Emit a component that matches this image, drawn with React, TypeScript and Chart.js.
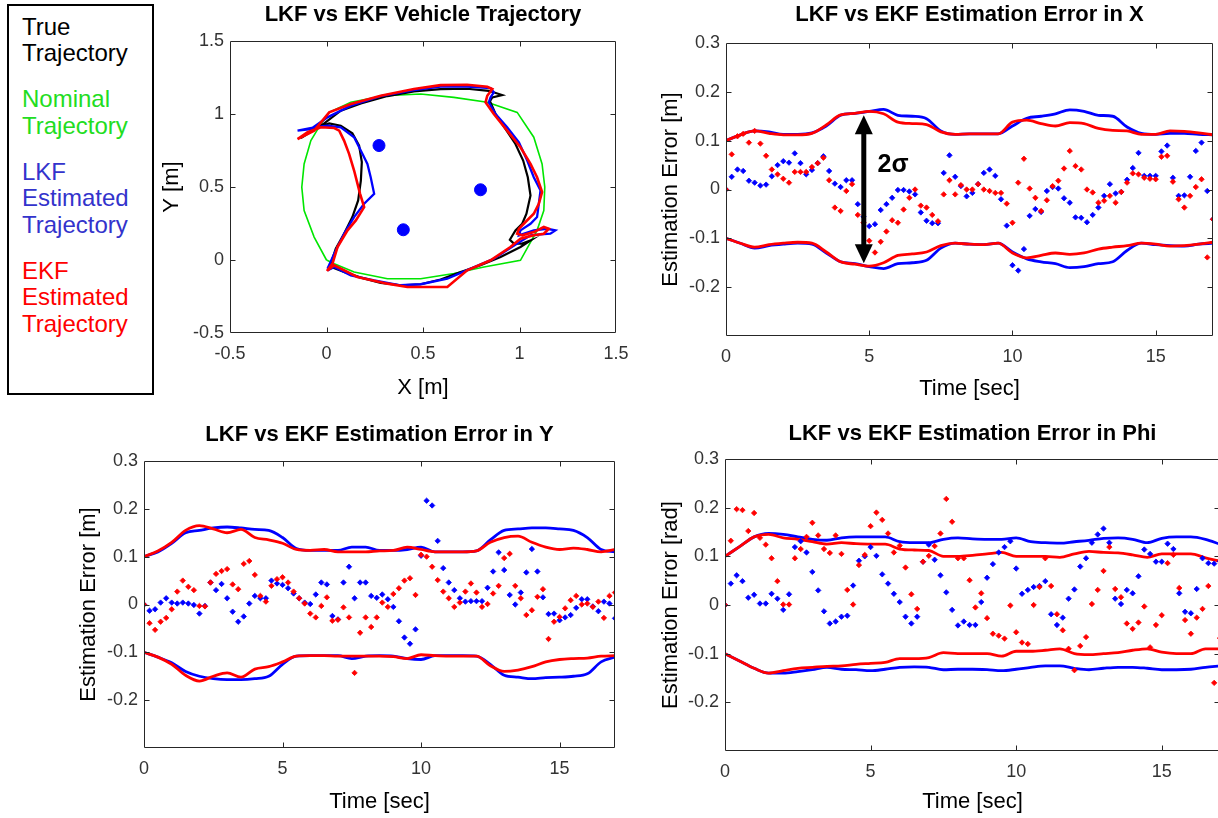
import React, { useEffect, useRef } from 'react';
import { Chart, registerables } from 'chart.js';

Chart.register(...registerables);

// ---------------- data ----------------
const T_PTS = [0, 0.2, 0.4, 0.6, 0.8, 1, 1.2, 1.4, 1.6, 1.8, 2, 2.2, 2.4, 2.6, 2.8, 3, 3.2, 3.4, 3.6, 3.8, 4, 4.2, 4.4, 4.6, 4.8, 5, 5.2, 5.4, 5.6, 5.8, 6, 6.2, 6.4, 6.6, 6.8, 7, 7.2, 7.4, 7.6, 7.8, 8, 8.2, 8.4, 8.6, 8.8, 9, 9.2, 9.4, 9.6, 9.8, 10, 10.2, 10.4, 10.6, 10.8, 11, 11.2, 11.4, 11.6, 11.8, 12, 12.2, 12.4, 12.6, 12.8, 13, 13.2, 13.4, 13.6, 13.8, 14, 14.2, 14.4, 14.6, 14.8, 15, 15.2, 15.4, 15.6, 15.8, 16, 16.2, 16.4, 16.6, 16.8, 17];
const T_BOUND = [0, 0.5, 1, 1.5, 2, 2.5, 3, 3.5, 4, 4.5, 5, 5.5, 6, 6.5, 7, 7.5, 8, 8.5, 9, 9.5, 10, 10.5, 11, 11.5, 12, 12.5, 13, 13.5, 14, 14.5, 15, 15.5, 16, 16.5, 17];

// Trajectory plot
const TRUE_X = [0.014, 0.048, 0.091, 0.134, 0.164, 0.178, 0.183, 0.169, 0.134, 0.074, 0.014, -0.055, -0.133, -0.064, -0.012, 0.074, 0.178, 0.316, 0.453, 0.591, 0.729, 0.841, 0.910, 0.859, 0.847, 0.876, 0.928, 0.979, 1.019, 1.043, 1.057, 1.036, 1.014, 0.979, 0.950, 0.971, 1.014, 1.057, 1.005, 0.902, 0.798, 0.695, 0.591, 0.488, 0.384, 0.281, 0.178, 0.091, 0.031, 0.005];
const TRUE_Y = [-0.059, 0.077, 0.180, 0.294, 0.408, 0.544, 0.670, 0.784, 0.868, 0.920, 0.936, 0.904, 0.836, 0.891, 0.936, 1.023, 1.073, 1.123, 1.155, 1.171, 1.173, 1.159, 1.130, 1.114, 1.087, 1.000, 0.897, 0.795, 0.681, 0.567, 0.442, 0.317, 0.248, 0.203, 0.139, 0.112, 0.112, 0.134, 0.089, 0.021, -0.036, -0.082, -0.134, -0.166, -0.173, -0.157, -0.121, -0.082, -0.052, -0.066];
const NOM_X = [0, -0.064, -0.116, -0.128, -0.116, -0.081, -0.029, 0.014, 0.126, 0.298, 0.488, 0.660, 0.833, 0.988, 1.074, 1.117, 1.131, 1.126, 1.091, 1.005, 0.816, 0.660, 0.488, 0.316, 0.143, 0.040, 0];
const NOM_Y = [0, 0.157, 0.339, 0.499, 0.658, 0.818, 0.932, 1.011, 1.080, 1.125, 1.137, 1.114, 1.080, 1.011, 0.841, 0.658, 0.499, 0.339, 0.203, -0.002, -0.048, -0.093, -0.128, -0.128, -0.082, -0.025, 0];
const LKF_X = [0.005, 0.040, 0.091, 0.143, 0.195, 0.247, 0.229, 0.212, 0.186, 0.143, 0.074, 0.005, -0.064, -0.150, -0.081, 0.005, 0.126, 0.281, 0.453, 0.591, 0.729, 0.850, 0.867, 0.850, 0.841, 0.876, 0.936, 0.997, 1.040, 1.074, 1.109, 1.100, 1.091, 1.057, 1.005, 0.997, 1.074, 1.143, 1.186, 1.160, 1.109, 1.057, 0.988, 0.867, 0.747, 0.626, 0.488, 0.384, 0.247, 0.126, 0.040, 0.005];
const LKF_Y = [-0.059, 0.043, 0.180, 0.294, 0.385, 0.453, 0.567, 0.658, 0.727, 0.841, 0.909, 0.920, 0.909, 0.886, 0.897, 0.977, 1.057, 1.123, 1.164, 1.187, 1.187, 1.178, 1.148, 1.114, 1.080, 1.000, 0.909, 0.806, 0.681, 0.567, 0.476, 0.385, 0.294, 0.248, 0.203, 0.169, 0.203, 0.214, 0.203, 0.180, 0.175, 0.169, 0.112, 0.009, -0.059, -0.128, -0.166, -0.173, -0.139, -0.105, -0.048, -0.071];
const EKF_X = [0.002, 0.031, 0.057, 0.109, 0.152, 0.195, 0.174, 0.143, 0.117, 0.091, 0.066, 0.040, -0.029, -0.098, -0.150, -0.064, 0.014, 0.126, 0.281, 0.453, 0.591, 0.729, 0.833, 0.859, 0.833, 0.824, 0.867, 0.936, 1.005, 1.057, 1.091, 1.117, 1.100, 1.074, 1.031, 0.997, 0.988, 1.014, 1.074, 1.126, 1.152, 1.126, 1.074, 1.005, 0.953, 0.850, 0.729, 0.626, 0.419, 0.316, 0.160, 0.040, 0.005];
const EKF_Y = [-0.075, -0.025, 0.089, 0.203, 0.271, 0.362, 0.453, 0.613, 0.727, 0.818, 0.886, 0.904, 0.909, 0.875, 0.829, 0.886, 1.011, 1.068, 1.125, 1.171, 1.198, 1.200, 1.187, 1.171, 1.125, 1.080, 1.000, 0.886, 0.772, 0.658, 0.567, 0.465, 0.385, 0.317, 0.260, 0.214, 0.180, 0.169, 0.191, 0.226, 0.214, 0.180, 0.169, 0.146, 0.089, -0.002, -0.071, -0.185, -0.185, -0.162, -0.116, -0.036, -0.071];
const LM_X = [0.272, 0.798, 0.398];
const LM_Y = [0.784, 0.481, 0.207];

// Estimation error in X
const X_LKF = [0, 0.026, 0.041, 0.038, 0.018, 0.014, 0.008, 0.010, 0.027, 0.050, 0.058, 0.055, 0.074, 0.054, 0.031, 0.040, 0.054, 0.068, 0.038, 0.012, 0.005, 0.019, 0.019, -0.030, -0.056, -0.075, -0.071, -0.042, -0.030, -0.017, -0.001, -0.001, -0.004, -0.010, -0.047, -0.064, -0.069, -0.069, 0.034, 0.070, 0.026, 0.007, -0.014, -0.007, 0.011, 0.034, 0.041, 0.028, -0.020, -0.074, -0.155, -0.166, -0.122, -0.054, -0.040, -0.046, -0.003, 0.005, 0.002, -0.018, -0.027, -0.057, -0.058, -0.067, -0.052, -0.037, -0.013, 0.011, -0.008, -0.005, 0.020, 0.044, 0.075, 0.028, 0.028, 0.028, 0.078, 0.090, 0.024, -0.013, -0.012, 0.026, 0.079, 0.096, -0.003, -0.061];
const X_EKF = [0, 0.072, 0.109, 0.114, 0.096, 0.120, 0.094, 0.069, 0.041, 0.031, 0.022, 0.014, 0.036, 0.036, 0.036, 0.046, 0.054, 0.065, 0.019, -0.037, -0.044, -0.003, 0.011, -0.052, -0.068, -0.105, -0.129, -0.107, -0.086, -0.063, -0.068, -0.041, -0.017, 0.000, -0.033, -0.037, -0.052, -0.065, -0.010, 0.019, -0.010, 0.009, 0.000, 0.000, 0.011, 0.000, -0.003, -0.007, -0.007, -0.029, -0.068, 0.014, 0.063, 0.002, -0.017, -0.044, -0.022, 0.007, 0.018, 0.043, 0.079, 0.048, 0.041, 0.000, -0.006, -0.027, -0.023, -0.013, -0.027, -0.005, 0.014, 0.033, 0.031, 0.024, 0.022, 0.021, 0.067, 0.069, 0.016, -0.020, -0.037, -0.013, 0.005, 0.021, -0.139, -0.061];
const XU_LKF = [0.100, 0.112, 0.120, 0.118, 0.113, 0.113, 0.116, 0.130, 0.152, 0.156, 0.160, 0.164, 0.152, 0.150, 0.145, 0.120, 0.113, 0.114, 0.114, 0.114, 0.130, 0.146, 0.150, 0.155, 0.163, 0.160, 0.152, 0.150, 0.128, 0.115, 0.113, 0.115, 0.115, 0.113, 0.112];
const XU_EKF = [0.100, 0.112, 0.120, 0.115, 0.112, 0.112, 0.115, 0.132, 0.153, 0.156, 0.160, 0.155, 0.138, 0.135, 0.133, 0.118, 0.113, 0.114, 0.114, 0.114, 0.138, 0.142, 0.135, 0.130, 0.137, 0.135, 0.125, 0.121, 0.120, 0.113, 0.113, 0.120, 0.119, 0.116, 0.112];
const XL_LKF = [-0.100, -0.110, -0.120, -0.115, -0.112, -0.110, -0.112, -0.130, -0.148, -0.152, -0.158, -0.162, -0.152, -0.150, -0.145, -0.120, -0.110, -0.112, -0.113, -0.110, -0.128, -0.142, -0.148, -0.152, -0.160, -0.158, -0.152, -0.148, -0.125, -0.110, -0.113, -0.115, -0.116, -0.112, -0.110];
const XL_EKF = [-0.100, -0.110, -0.118, -0.113, -0.110, -0.108, -0.110, -0.128, -0.148, -0.153, -0.157, -0.150, -0.135, -0.132, -0.128, -0.115, -0.110, -0.112, -0.113, -0.110, -0.130, -0.140, -0.135, -0.130, -0.133, -0.130, -0.122, -0.118, -0.115, -0.110, -0.112, -0.116, -0.115, -0.112, -0.108];

// Estimation error in Y
const Y_LKF = [0, -0.013, -0.010, 0.004, 0.013, 0.004, 0.002, 0.004, 0.002, -0.001, -0.019, -0.003, 0.046, 0.030, 0.043, 0.013, -0.015, -0.036, -0.025, 0.002, 0.018, 0.013, 0.013, 0.050, 0.044, 0.041, 0.034, 0.023, 0.013, 0.004, 0.001, 0.021, 0.046, 0.042, -0.024, -0.031, 0.046, 0.079, 0.013, 0.046, 0.046, 0.018, 0.014, 0.021, 0.011, -0.005, -0.035, -0.069, -0.082, -0.052, 0.102, 0.217, 0.207, 0.133, 0.076, 0.046, 0.030, 0.013, 0.006, 0.007, 0.007, 0.007, 0.035, 0.069, 0.109, 0.072, 0.020, 0.000, 0.025, 0.067, 0.116, 0.069, 0.015, -0.020, -0.019, -0.033, -0.027, -0.022, -0.007, 0.011, 0.011, -0.004, -0.014, 0.006, 0.002, -0.029];
const Y_EKF = [0, -0.039, -0.053, -0.036, -0.028, -0.010, 0.027, 0.050, 0.037, 0.030, -0.003, -0.004, 0.046, 0.064, 0.070, 0.074, 0.042, 0.032, 0.085, 0.091, 0.062, 0.018, 0.006, 0.039, 0.053, 0.057, 0.046, 0.027, 0.013, 0.002, -0.019, -0.027, -0.003, 0.015, -0.034, -0.032, -0.006, -0.027, -0.143, -0.059, -0.027, -0.047, -0.027, 0.004, -0.005, 0.022, 0.034, 0.050, 0.055, 0.020, 0.104, 0.100, 0.079, 0.051, 0.027, 0.013, -0.005, 0.004, 0.027, 0.044, 0.025, -0.005, 0.001, 0.023, 0.039, 0.097, 0.106, 0.039, 0.013, -0.022, -0.012, 0.016, 0.032, -0.072, -0.036, -0.026, -0.008, 0.009, 0.018, 0.000, 0.002, -0.005, 0.006, -0.028, 0.018, 0.025];
const YU_LKF = [0.100, 0.110, 0.128, 0.150, 0.155, 0.160, 0.162, 0.160, 0.157, 0.155, 0.140, 0.117, 0.113, 0.113, 0.113, 0.120, 0.120, 0.113, 0.113, 0.115, 0.120, 0.110, 0.110, 0.110, 0.112, 0.135, 0.155, 0.158, 0.160, 0.160, 0.158, 0.155, 0.140, 0.115, 0.110];
const YU_EKF = [0.100, 0.112, 0.130, 0.155, 0.165, 0.158, 0.150, 0.157, 0.140, 0.135, 0.128, 0.115, 0.113, 0.115, 0.110, 0.110, 0.110, 0.112, 0.113, 0.120, 0.115, 0.110, 0.110, 0.110, 0.112, 0.130, 0.140, 0.143, 0.130, 0.120, 0.115, 0.118, 0.115, 0.110, 0.115];
const YL_LKF = [-0.100, -0.110, -0.122, -0.140, -0.150, -0.155, -0.157, -0.157, -0.155, -0.150, -0.125, -0.108, -0.107, -0.107, -0.107, -0.113, -0.108, -0.107, -0.108, -0.113, -0.115, -0.107, -0.107, -0.107, -0.108, -0.125, -0.148, -0.152, -0.155, -0.153, -0.152, -0.150, -0.145, -0.120, -0.110];
const YL_EKF = [-0.100, -0.110, -0.125, -0.148, -0.160, -0.150, -0.143, -0.152, -0.135, -0.130, -0.120, -0.108, -0.107, -0.107, -0.108, -0.108, -0.108, -0.108, -0.109, -0.113, -0.105, -0.107, -0.108, -0.108, -0.108, -0.128, -0.140, -0.137, -0.130, -0.120, -0.115, -0.113, -0.112, -0.108, -0.107];

// Estimation error in Phi
const P_LKF = [0, 0.044, 0.061, 0.049, 0.015, 0.021, 0.003, 0.003, 0.023, 0.013, -0.010, 0.022, 0.119, 0.131, 0.108, 0.068, 0.030, -0.013, -0.038, -0.034, -0.024, -0.022, 0.040, 0.091, 0.100, 0.119, 0.101, 0.063, 0.044, 0.023, 0.006, -0.024, -0.038, -0.024, 0.089, 0.124, 0.093, 0.061, 0.026, -0.010, -0.042, -0.034, -0.041, -0.041, 0.006, 0.056, 0.084, 0.108, 0.119, 0.131, 0.075, 0.023, 0.031, 0.037, 0.039, 0.049, -0.019, -0.041, -0.026, 0.013, 0.032, 0.079, 0.096, 0.128, 0.145, 0.157, 0.128, 0.013, 0.002, 0.031, 0.024, 0.059, 0.114, 0.105, 0.089, 0.089, 0.126, 0.115, 0.024, -0.014, -0.017, 0.033, 0.096, 0.086, 0.085, 0.090];
const P_EKF = [0, 0.132, 0.197, 0.195, 0.152, 0.189, 0.138, 0.124, 0.096, 0.049, 0.001, 0.001, 0.096, 0.115, 0.140, 0.169, 0.143, 0.115, 0.107, 0.143, 0.105, 0.031, 0.001, 0.082, 0.103, 0.162, 0.190, 0.175, 0.147, 0.108, 0.122, 0.077, 0.022, -0.008, 0.089, 0.101, 0.121, 0.147, 0.218, 0.171, 0.096, 0.096, 0.051, -0.005, 0.024, -0.027, -0.059, -0.063, -0.069, -0.001, -0.056, -0.077, -0.080, 0.000, 0.037, 0.096, 0.039, -0.019, -0.052, -0.090, -0.134, -0.084, -0.066, 0.002, 0.031, 0.070, 0.119, 0.033, 0.016, -0.038, -0.049, -0.036, -0.003, -0.087, -0.041, -0.021, 0.086, 0.103, 0.035, -0.031, -0.059, -0.026, -0.008, 0.039, -0.160, -0.068];
const PU_LKF = [0.100, 0.120, 0.140, 0.147, 0.145, 0.140, 0.135, 0.133, 0.138, 0.140, 0.140, 0.140, 0.130, 0.128, 0.128, 0.135, 0.138, 0.136, 0.135, 0.135, 0.138, 0.130, 0.128, 0.127, 0.130, 0.133, 0.137, 0.138, 0.135, 0.128, 0.137, 0.140, 0.140, 0.135, 0.125];
const PU_EKF = [0.100, 0.120, 0.140, 0.145, 0.138, 0.135, 0.130, 0.125, 0.128, 0.126, 0.125, 0.125, 0.115, 0.113, 0.112, 0.100, 0.100, 0.102, 0.105, 0.108, 0.100, 0.100, 0.100, 0.098, 0.105, 0.110, 0.108, 0.107, 0.103, 0.098, 0.105, 0.105, 0.105, 0.097, 0.090];
const PL_LKF = [-0.100, -0.115, -0.130, -0.140, -0.140, -0.137, -0.133, -0.128, -0.132, -0.133, -0.135, -0.132, -0.128, -0.127, -0.128, -0.133, -0.132, -0.132, -0.133, -0.135, -0.132, -0.128, -0.125, -0.125, -0.130, -0.133, -0.130, -0.128, -0.128, -0.130, -0.133, -0.133, -0.132, -0.128, -0.125];
const PL_EKF = [-0.100, -0.115, -0.130, -0.140, -0.135, -0.130, -0.128, -0.126, -0.125, -0.122, -0.120, -0.118, -0.110, -0.110, -0.108, -0.098, -0.100, -0.100, -0.100, -0.105, -0.095, -0.095, -0.093, -0.090, -0.100, -0.102, -0.100, -0.098, -0.093, -0.090, -0.097, -0.100, -0.100, -0.090, -0.090];

// Ticks
const TRAJ_TICKS = [-0.5, 0, 0.5, 1, 1.5];
const TRAJ_TICK_LABELS = ['-0.5', '0', '0.5', '1', '1.5'];
const TIME_TICKS = [0, 5, 10, 15];
const TIME_TICK_LABELS = ['0', '5', '10', '15'];
const ERR_TICKS = [-0.3, -0.2, -0.1, 0, 0.1, 0.2, 0.3];
const ERR_TICK_LABELS = ['', '-0.2', '-0.1', '0', '0.1', '0.2', '0.3'];

// 2-sigma annotation
const ARROW_T = 4.81;
const ARROW_TOP = 0.152;
const ARROW_BOTTOM = -0.151;
const SIGMA_LABEL = '2σ';
const SIGMA_T = 5.83;
const SIGMA_V = 0.05;

const LEGEND_ITEMS = [
  { lines: ['True', 'Trajectory'], color: '#000000' },
  { lines: ['Nominal', 'Trajectory'], color: '#22dd22' },
  { lines: ['LKF', 'Estimated', 'Trajectory'], color: '#3333cc' },
  { lines: ['EKF', 'Estimated', 'Trajectory'], color: '#ff0000' },
];

// ---------------- styling ----------------
const FONT = "'Liberation Sans', Arial, Helvetica, sans-serif";
const BLUE = '#0000ff';
const RED = '#ff0000';
const GREEN = '#00e600';
const BLACK = '#000000';
const TICK_SIZE = 18;
const AX_SIZE = 22;
const TITLE_SIZE = 22;
const AXIS_COLOR = '#262626';

type Geo = { left: number; top: number; width: number; height: number; l: number; t: number; r: number; b: number; titleY: number; yTitleX: number; xTitleY: number };

const GEO_TRAJ: Geo = { left: 150, top: 0, width: 495, height: 405, l: 230, t: 41, r: 616, b: 333, titleY: 15, yTitleX: 172, xTitleY: 388 };
const GEO_X: Geo = { left: 655, top: 0, width: 563, height: 405, l: 726, t: 43, r: 1213, b: 336, titleY: 15, yTitleX: 671, xTitleY: 389 };
const GEO_Y: Geo = { left: 55, top: 410, width: 585, height: 408, l: 144, t: 461, r: 615, b: 748, titleY: 435, yTitleX: 89, xTitleY: 802 };
const GEO_PHI: Geo = { left: 655, top: 410, width: 575, height: 408, l: 725, t: 459, r: 1220, b: 751, titleY: 434, yTitleX: 671, xTitleY: 802 };

const zip = (xs: number[], ys: number[]) => xs.map((x, i) => ({ x, y: ys[i] }));
const labelFor = (ticks: number[], labels: string[]) => (v: number) => {
  const i = ticks.findIndex((t) => Math.abs(t - v) < 1e-9);
  return i >= 0 ? labels[i] : '';
};

const matlabBox = {
  id: 'matlabBox',
  afterDraw(chart: any) {
    const { ctx, chartArea: a, scales } = chart;
    const L = Math.round(a.left) + 0.5;
    const R = Math.round(a.right) - 0.5;
    const T = Math.round(a.top) + 0.5;
    const B = Math.round(a.bottom) - 0.5;
    ctx.save();
    ctx.strokeStyle = AXIS_COLOR;
    ctx.lineWidth = 1;
    ctx.beginPath();
    ctx.rect(L, T, R - L, B - T);
    ctx.stroke();
    const len = 5;
    ctx.beginPath();
    scales.x.ticks.forEach((tk: any) => {
      const p = Math.round(scales.x.getPixelForValue(tk.value)) + 0.5;
      if (p <= L + 1 || p >= R - 1) return;
      ctx.moveTo(p, B); ctx.lineTo(p, B - len);
      ctx.moveTo(p, T); ctx.lineTo(p, T + len);
    });
    scales.y.ticks.forEach((tk: any) => {
      const p = Math.round(scales.y.getPixelForValue(tk.value)) + 0.5;
      if (p <= T + 1 || p >= B - 1) return;
      ctx.moveTo(L, p); ctx.lineTo(L + len, p);
      ctx.moveTo(R, p); ctx.lineTo(R - len, p);
    });
    ctx.stroke();
    ctx.restore();
  },
};

const sigmaArrow = {
  id: 'sigmaArrow',
  afterDatasetsDraw(chart: any) {
    const { ctx, scales } = chart;
    const px = scales.x.getPixelForValue(ARROW_T);
    const yTop = scales.y.getPixelForValue(ARROW_TOP);
    const yBot = scales.y.getPixelForValue(ARROW_BOTTOM);
    const head = 19;
    const hw = 9;
    ctx.save();
    ctx.fillStyle = BLACK;
    ctx.strokeStyle = BLACK;
    ctx.lineWidth = 5;
    ctx.beginPath();
    ctx.moveTo(px, yTop + head - 2);
    ctx.lineTo(px, yBot - head + 2);
    ctx.stroke();
    ctx.beginPath();
    ctx.moveTo(px, yTop);
    ctx.lineTo(px - hw, yTop + head);
    ctx.lineTo(px + hw, yTop + head);
    ctx.closePath();
    ctx.fill();
    ctx.beginPath();
    ctx.moveTo(px, yBot);
    ctx.lineTo(px - hw, yBot - head);
    ctx.lineTo(px + hw, yBot - head);
    ctx.closePath();
    ctx.fill();
    ctx.font = `bold 25px ${FONT}`;
    ctx.textAlign = 'center';
    ctx.textBaseline = 'middle';
    ctx.fillText(SIGMA_LABEL, scales.x.getPixelForValue(SIGMA_T), scales.y.getPixelForValue(SIGMA_V));
    ctx.restore();
  },
};

type Spec = {
  geo: Geo;
  title: string;
  xTitle: string;
  yTitle: string;
  xMin: number; xMax: number; yMin: number; yMax: number;
  xTicks: number[]; xLabels: string[];
  yTicks: number[]; yLabels: string[];
  datasets: any[];
  extra?: any[];
};

function buildConfig(s: Spec): any {
  const g = s.geo;
  const half = (sz: number) => sz * 0.6;
  const tickFont = { family: FONT, size: TICK_SIZE, lineHeight: 1.2 };
  const axFont = { family: FONT, size: AX_SIZE, lineHeight: 1.2 };
  return {
    type: 'scatter',
    data: { datasets: s.datasets },
    options: {
      animation: false,
      responsive: false,
      events: [],
      layout: { padding: { left: 0, top: 0, right: g.left + g.width - g.r, bottom: 0 } },
      plugins: {
        legend: { display: false },
        tooltip: { enabled: false },
        title: {
          display: true,
          text: s.title,
          fullSize: false,
          color: BLACK,
          font: { family: FONT, size: TITLE_SIZE, weight: 'bold', lineHeight: 1.2 },
          padding: { top: g.titleY - g.top - half(TITLE_SIZE), bottom: g.t - g.titleY - half(TITLE_SIZE) },
        },
      },
      scales: {
        x: {
          type: 'linear',
          position: 'bottom',
          min: s.xMin,
          max: s.xMax,
          grid: { display: false, drawTicks: false },
          border: { display: false },
          afterBuildTicks: (sc: any) => { sc.ticks = s.xTicks.map((v) => ({ value: v })); },
          afterFit: (sc: any) => { sc.height = g.top + g.height - g.b; },
          ticks: { callback: labelFor(s.xTicks, s.xLabels), color: '#333333', font: tickFont, padding: 10, maxRotation: 0, autoSkip: false },
          title: { display: true, text: s.xTitle, color: BLACK, font: axFont, padding: { top: 0, bottom: g.top + g.height - g.xTitleY - half(AX_SIZE) } },
        },
        y: {
          type: 'linear',
          position: 'left',
          min: s.yMin,
          max: s.yMax,
          grid: { display: false, drawTicks: false },
          border: { display: false },
          afterBuildTicks: (sc: any) => { sc.ticks = s.yTicks.map((v) => ({ value: v })); },
          afterFit: (sc: any) => { sc.width = g.l - g.left; },
          ticks: { callback: labelFor(s.yTicks, s.yLabels), color: '#333333', font: tickFont, padding: 6, autoSkip: false },
          title: { display: true, text: s.yTitle, color: BLACK, font: axFont, padding: { top: g.yTitleX - g.left - half(AX_SIZE), bottom: 0 } },
        },
      },
    },
    plugins: [matlabBox, ...(s.extra || [])],
  };
}

const lineDs = (label: string, data: any[], color: string, width: number) => ({
  label, data, showLine: true, pointRadius: 0, borderColor: color, backgroundColor: color, borderWidth: width,
});
const boundDs = (label: string, vals: number[], color: string) => ({
  label, data: zip(T_BOUND, vals), showLine: true, pointRadius: 0, borderColor: color, backgroundColor: color,
  borderWidth: 2.8, cubicInterpolationMode: 'monotone',
});
const errDs = (label: string, vals: number[], color: string) => ({
  label, data: zip(T_PTS, vals), showLine: false, pointStyle: 'rectRot', pointRadius: 2.7,
  pointBorderWidth: 0.8, borderColor: color, backgroundColor: color,
});

function errSpec(geo: Geo, title: string, yTitle: string, lkf: number[], ekf: number[], bounds: number[][], extra?: any[]): Spec {
  const [uL, uE, lL, lE] = bounds;
  return {
    geo, title, xTitle: 'Time [sec]', yTitle,
    xMin: 0, xMax: 17, yMin: -0.3, yMax: 0.3,
    xTicks: TIME_TICKS, xLabels: TIME_TICK_LABELS,
    yTicks: ERR_TICKS, yLabels: ERR_TICK_LABELS,
    datasets: [
      errDs('EKF error', ekf, RED),
      errDs('LKF error', lkf, BLUE),
      boundDs('EKF +2σ', uE, RED),
      boundDs('EKF -2σ', lE, RED),
      boundDs('LKF +2σ', uL, BLUE),
      boundDs('LKF -2σ', lL, BLUE),
    ],
    extra,
  };
}

const SPECS: Spec[] = [
  {
    geo: GEO_TRAJ,
    title: 'LKF vs EKF Vehicle Trajectory',
    xTitle: 'X [m]',
    yTitle: 'Y [m]',
    xMin: -0.5, xMax: 1.5, yMin: -0.5, yMax: 1.5,
    xTicks: TRAJ_TICKS, xLabels: TRAJ_TICK_LABELS,
    yTicks: TRAJ_TICKS, yLabels: TRAJ_TICK_LABELS,
    datasets: [
      { label: 'Landmarks', data: zip(LM_X, LM_Y), showLine: false, pointStyle: 'circle', pointRadius: 6, borderColor: BLUE, backgroundColor: BLUE },
      lineDs('EKF Estimated Trajectory', zip(EKF_X, EKF_Y), RED, 2.6),
      lineDs('LKF Estimated Trajectory', zip(LKF_X, LKF_Y), BLUE, 2.3),
      lineDs('True Trajectory', zip(TRUE_X, TRUE_Y), BLACK, 2.2),
      lineDs('Nominal Trajectory', zip(NOM_X, NOM_Y), GREEN, 1.6),
    ],
  },
  errSpec(GEO_X, 'LKF vs EKF Estimation Error in X', 'Estimation Error [m]', X_LKF, X_EKF, [XU_LKF, XU_EKF, XL_LKF, XL_EKF], [sigmaArrow]),
  errSpec(GEO_Y, 'LKF vs EKF Estimation Error in Y', 'Estimation Error [m]', Y_LKF, Y_EKF, [YU_LKF, YU_EKF, YL_LKF, YL_EKF]),
  errSpec(GEO_PHI, 'LKF vs EKF Estimation Error in Phi', 'Estimation Error [rad]', P_LKF, P_EKF, [PU_LKF, PU_EKF, PL_LKF, PL_EKF]),
];

function ChartCanvas({ spec }: { spec: Spec }) {
  const ref = useRef<HTMLCanvasElement | null>(null);
  useEffect(() => {
    if (!ref.current) return;
    const chart = new Chart(ref.current, buildConfig(spec));
    return () => chart.destroy();
  }, [spec]);
  const g = spec.geo;
  return (
    <canvas
      ref={ref}
      width={g.width}
      height={g.height}
      style={{ position: 'absolute', left: g.left, top: g.top, width: g.width, height: g.height }}
    />
  );
}

function LegendBox() {
  const LH = 26.5;
  const GAP = 19.5;
  let top = 13.75;
  const groups = LEGEND_ITEMS.map((it, i) => {
    const el = (
      <div key={i} style={{ position: 'absolute', left: 22, top, color: it.color, fontFamily: FONT, fontSize: 24, lineHeight: `${LH}px`, whiteSpace: 'nowrap' }}>
        {it.lines.map((ln, j) => <div key={j}>{ln}</div>)}
      </div>
    );
    top += it.lines.length * LH + GAP;
    return el;
  });
  return (
    <>
      <div style={{ position: 'absolute', left: 7, top: 4, width: 147, height: 391, border: '2px solid #000', boxSizing: 'border-box' }} />
      {groups}
    </>
  );
}

export default function App() {
  return (
    <div style={{ position: 'fixed', left: 0, top: 0, width: 1218, height: 818, overflow: 'hidden', background: '#ffffff' }}>
      <LegendBox />
      {SPECS.map((s, i) => <ChartCanvas key={i} spec={s} />)}
    </div>
  );
}
